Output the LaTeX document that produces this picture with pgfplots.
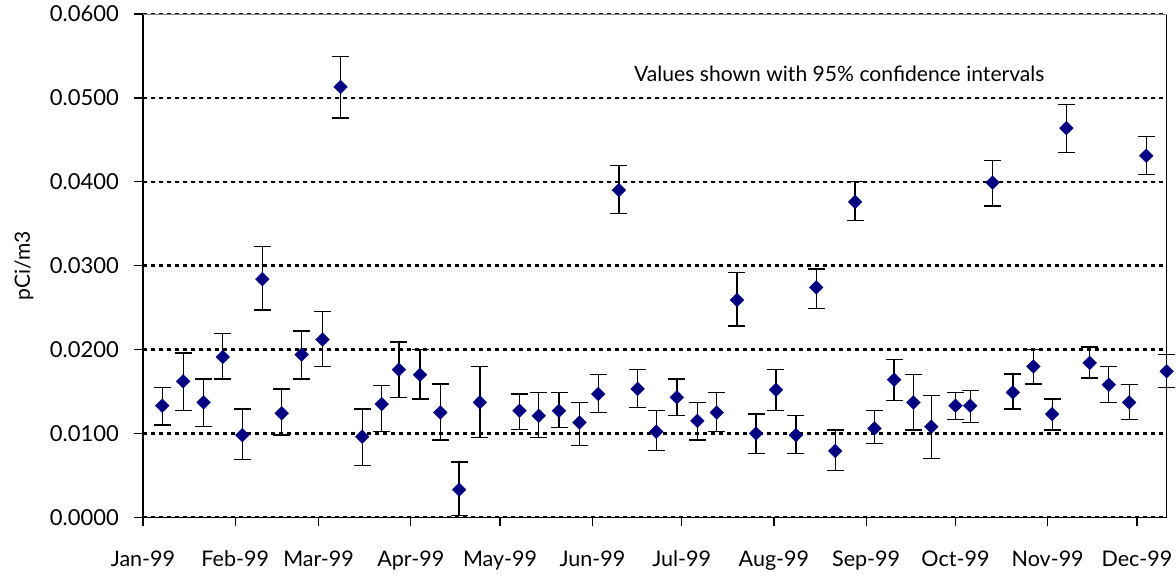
\documentclass[border=0pt]{standalone}
\usepackage{pgfplots}
\pgfplotsset{compat=1.18}
\usepackage{pgfplotstable}
\usepackage{fontspec}
\setmainfont{Lato}
\definecolor{navy}{RGB}{0,0,128}
\pgfdeclareplotmark{sqdiamond}{%
  \pgfpathmoveto{\pgfqpoint{0pt}{\pgfplotmarksize}}%
  \pgfpathlineto{\pgfqpoint{\pgfplotmarksize}{0pt}}%
  \pgfpathlineto{\pgfqpoint{0pt}{-\pgfplotmarksize}}%
  \pgfpathlineto{\pgfqpoint{-\pgfplotmarksize}{0pt}}%
  \pgfpathclose
  \pgfusepathqfillstroke
}

\pgfplotstableread{
x y hi lo
6.5 0.0133 0.0155 0.0110
13.5 0.0162 0.0196 0.0127
20.4 0.0137 0.0165 0.0108
26.8 0.0191 0.0219 0.0165
33.4 0.0098 0.0129 0.0069
40.1 0.0284 0.0323 0.0247
46.6 0.0124 0.0153 0.0098
53.3 0.0194 0.0222 0.0165
60.3 0.0212 0.0245 0.0180
66.4 0.0513 0.0549 0.0476
73.7 0.0096 0.0129 0.0062
80.2 0.0135 0.0157 0.0102
86.0 0.0176 0.0209 0.0143
93.1 0.0170 0.0200 0.0141
99.9 0.0125 0.0159 0.0092
106.2 0.0033 0.0066 0.0002
113.2 0.0137 0.0180 0.0095
126.5 0.0127 0.0147 0.0105
133.0 0.0121 0.0149 0.0095
139.8 0.0127 0.0149 0.0107
146.7 0.0113 0.0137 0.0086
153.0 0.0147 0.0170 0.0125
159.9 0.0390 0.0419 0.0362
166.2 0.0153 0.0176 0.0131
172.5 0.0102 0.0127 0.0080
179.4 0.0143 0.0165 0.0121
186.3 0.0115 0.0137 0.0092
192.8 0.0125 0.0149 0.0102
199.6 0.0259 0.0292 0.0228
206.0 0.0100 0.0123 0.0076
212.7 0.0152 0.0176 0.0127
219.4 0.0098 0.0121 0.0076
226.2 0.0274 0.0296 0.0249
232.6 0.0079 0.0104 0.0056
239.3 0.0376 0.0400 0.0354
245.8 0.0106 0.0127 0.0088
252.4 0.0164 0.0188 0.0139
258.9 0.0137 0.0170 0.0104
264.9 0.0108 0.0145 0.0070
273.0 0.0133 0.0149 0.0117
278.0 0.0133 0.0151 0.0113
285.5 0.0399 0.0425 0.0371
292.3 0.0149 0.0171 0.0129
299.2 0.0180 0.0200 0.0159
305.5 0.0123 0.0141 0.0104
310.3 0.0464 0.0492 0.0435
318.1 0.0184 0.0203 0.0166
324.5 0.0158 0.0180 0.0137
331.4 0.0137 0.0158 0.0117
337.1 0.0431 0.0454 0.0409
344.0 0.0174 0.0194 0.0155
}\data

\begin{document}
\begin{tikzpicture}
\begin{axis}[
  scale only axis, width=1023.7pt, height=503.3pt,
  xmin=0, xmax=344, ymin=0, ymax=0.06,
  axis lines=left, axis line style={-, black, line width=1.3pt},
  clip=false,
  xtick={0,31,59,90,120,151,181,212,243,273,304,334},
  xticklabels={Jan-99,Feb-99,Mar-99,Apr-99,May-99,Jun-99,Jul-99,Aug-99,Sep-99,Oct-99,Nov-99,Dec-99},
  ytick={0,0.01,0.02,0.03,0.04,0.05,0.06},
  tick align=outside, tick style={black, line width=1.3pt}, major tick length=9pt,
  ymajorgrids,
  every axis grid/.style={black, line width=2.3pt, dash pattern=on 4pt off 4pt},
  major grid style={black, line width=2.3pt, dash pattern=on 4pt off 4pt},
  scaled y ticks=false,
  yticklabel style={/pgf/number format/fixed, /pgf/number format/fixed zerofill, /pgf/number format/precision=4, /pgf/number format/assume math mode=true},
  yticklabel style={font=\fontsize{22}{26}\selectfont, anchor=east, inner sep=0pt, xshift=-15pt},
  xticklabel style={font=\fontsize{21.5}{26}\selectfont, anchor=base, inner sep=0pt, yshift=-40.7pt},
  every axis y label/.style={at={(axis description cs:-0.1162,0.5)}, rotate=90, anchor=center, font=\fontsize{21}{25}\selectfont},
  ylabel={pCi/m3},
]
\addplot[only marks, mark=sqdiamond, mark size=6.9pt, mark options={fill=navy, draw=navy, line width=0.3pt},
  error bars/.cd, y dir=both, y explicit, error mark=|,
  error bar style={black, line width=1.3pt},
  error mark options={black, line width=1.3pt, mark size=8.5pt}]
  table[x=x, y=y, y error plus expr=\thisrow{hi}-\thisrow{y}, y error minus expr=\thisrow{y}-\thisrow{lo}] {\data};
\draw[black, line width=1.3pt] (axis cs:344,0) -- (axis cs:344,0.06);
\draw[gray, line width=0.8pt] (axis cs:0,0.06) -- (axis cs:344,0.06);
\node[anchor=base west, inner sep=0pt, font=\fontsize{21.1}{25}\selectfont] at (axis cs:165,0.052) {Values shown with 95\% confidence intervals};
\end{axis}
\pgfresetboundingbox
\path[use as bounding box] (-143pt,-60.7pt) rectangle (1033pt,517.3pt);
\end{tikzpicture}
\end{document}
